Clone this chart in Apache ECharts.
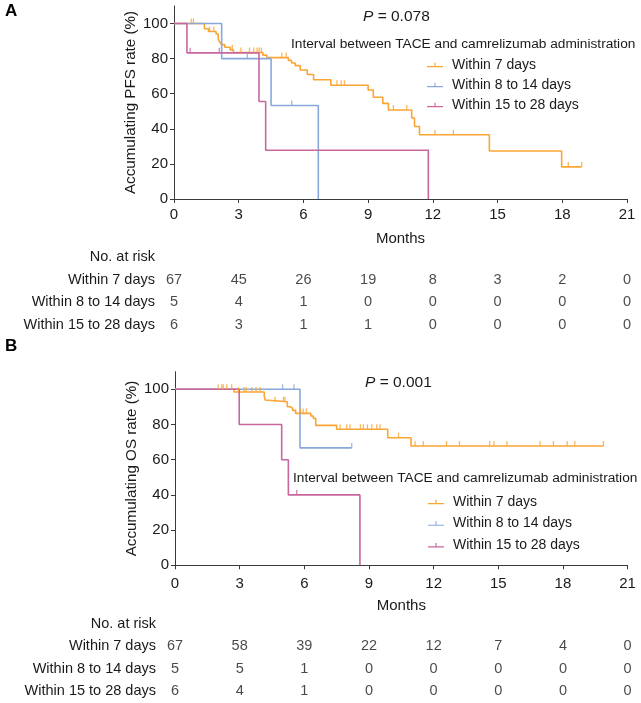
<!DOCTYPE html>
<html><head><meta charset="utf-8">
<script src="https://cdn.jsdelivr.net/npm/echarts@6/dist/echarts.min.js"></script>
<style>html,body{margin:0;padding:0;background:#fff}#c{width:641px;height:703px}</style>
</head><body><div id="c"></div><script>
// ---------- data ----------
const groupNames = ['Within 7 days', 'Within 8 to 14 days', 'Within 15 to 28 days'];
const xTicks = [0, 3, 6, 9, 12, 15, 18, 21];
const yTicks = [0, 20, 40, 60, 80, 100];
const riskTimes = [0, 3, 6, 9, 12, 15, 18, 21];
const riskRows = ['No. at risk', 'Within 7 days', 'Within 8 to 14 days', 'Within 15 to 28 days'];

// Panel A: PFS
const pfsW7 = [[0,100],[1.41,97.0],[1.6,95.5],[1.95,94.0],[2.05,91.0],[2.12,89.5],[2.2,88.0],[2.35,86.5],[2.6,85.0],[2.75,83.5],
  [4.12,82.0],[4.3,80.6],[5.3,79.0],[5.45,77.5],[5.62,76.0],[5.85,73.5],[6.18,71.0],[6.47,68.0],[7.27,64.8],[9.0,62.1],
  [9.24,58.0],[9.68,54.5],[9.94,50.7],[11.02,46.2],[11.15,41.3],[11.38,36.6],[14.62,27.4],[17.97,18.3],[18.9,18.3]];
const pfsW7Cens = [[0.8,100],[0.9,100],[1.65,95.5],[1.85,95.5],[2.7,85.0],[3.1,83.5],[3.5,83.5],[3.7,83.5],[3.85,83.5],[3.95,83.5],[4.05,83.5],
  [5.0,80.6],[5.2,80.6],[7.55,64.8],[7.75,64.8],[7.9,64.8],[10.17,50.7],[10.79,50.7],[12.1,36.6],[12.95,36.6],[18.28,18.3],[18.9,18.3]];
const pfsW14 = [[0,100],[2.21,80],[4.5,53.3],[6.69,0]];
const pfsW14Cens = [[3.4,80],[5.46,53.3]];
const pfsW28 = [[0,100],[0.6,83.3],[3.94,55.6],[4.25,27.8],[11.79,0]];
const pfsW28Cens = [[0.75,83.3],[2.1,83.3]];
const pfsRiskW7 = [67,45,26,19,8,3,2,0];
const pfsRiskW14 = [5,4,1,0,0,0,0,0];
const pfsRiskW28 = [6,3,1,1,0,0,0,0];

// Panel B: OS
const osW7 = [[0,100],[2.74,98.5],[4.14,96.4],[4.18,93.9],[4.22,92.9],[5.21,90.1],[5.35,89.2],[5.46,88.0],[5.6,86.3],[6.3,84.8],
  [6.42,83.5],[6.53,79.5],[7.5,77.3],[9.87,72.5],[10.95,67.8],[19.88,67.8]];
const osW7Cens = [[2.0,100],[2.17,100],[2.24,100],[2.4,100],[2.63,100],[2.94,98.5],[3.2,98.5],[3.3,98.5],[3.56,98.5],[3.76,98.5],[3.95,98.5],
  [4.64,92.9],[5.03,92.9],[5.1,92.9],[5.83,86.3],[5.95,86.3],[6.1,86.3],
  [7.66,77.3],[7.97,77.3],[8.12,77.3],[8.6,77.3],[8.74,77.3],[8.93,77.3],[9.13,77.3],[9.36,77.3],[9.51,77.3],[10.37,72.5],
  [11.14,67.8],[11.52,67.8],[12.6,67.8],[13.2,67.8],[14.6,67.8],[14.8,67.8],[15.4,67.8],[16.94,67.8],[17.56,67.8],[18.2,67.8],[18.55,67.8],[19.88,67.8]];
const osW14 = [[0,100],[5.8,66.7],[8.2,66.7]];
const osW14Cens = [[4.99,100],[5.52,100],[8.2,66.7]];
const osW28 = [[0,100],[2.98,80],[4.95,60],[5.26,40],[8.58,0]];
const osW28Cens = [[5.65,40]];
const osRiskW7 = [67,58,39,22,12,7,4,0];
const osRiskW14 = [5,5,1,0,0,0,0,0];
const osRiskW28 = [6,4,1,0,0,0,0,0];

// ---------- styling ----------
const FONT = '"Liberation Sans", Arial, sans-serif';
const colors = ['#FBA535', '#88A8DC', '#C8679E'];
const axisColor = '#3a3a3a';
const textColor = '#1a1a1a';

function plotAxes(gridIndex, yName, labelMargin, nameGap) {
  return {
    x: {
      type: 'value', gridIndex, min: 0, max: 21, interval: 3,
      axisLine: { lineStyle: { color: axisColor, width: 1 } },
      axisTick: { length: 4, lineStyle: { color: axisColor } },
      axisLabel: { color: textColor, fontSize: 15, fontFamily: FONT, margin: labelMargin },
      splitLine: { show: false },
      name: 'Months', nameLocation: 'middle', nameGap: nameGap, nameMoveOverlap: false,
      nameTextStyle: { color: textColor, fontSize: 15, fontFamily: FONT }
    },
    y: {
      type: 'value', gridIndex, min: 0, max: 110, interval: 20,
      axisLine: { show: true, lineStyle: { color: axisColor, width: 1 } },
      axisTick: { show: true, length: 4, lineStyle: { color: axisColor }, customValues: yTicks },
      axisLabel: { color: textColor, fontSize: 15, fontFamily: FONT, margin: 6, customValues: yTicks },
      splitLine: { show: false },
      name: yName, nameLocation: 'middle', nameGap: 36, nameMoveOverlap: false,
      nameTextStyle: { color: textColor, fontSize: 15.2, fontFamily: FONT }
    }
  };
}
function riskAxes(gridIndex) {
  return {
    x: { type: 'value', gridIndex, min: 0, max: 21, show: false },
    y: {
      type: 'category', gridIndex, data: riskRows, inverse: true,
      axisLine: { show: false }, axisTick: { show: false },
      axisLabel: { color: textColor, fontSize: 14.5, fontFamily: FONT, margin: 19, align: 'right' },
      splitLine: { show: false }
    }
  };
}
const aP = plotAxes(0, 'Accumulating PFS rate (%)', 8, 32);
const aR = riskAxes(1);
const bP = plotAxes(2, 'Accumulating OS rate (%)', 11, 33);
const bR = riskAxes(3);

function kmSeries(name, data, color, xi, yi) {
  return { type: 'line', name, data, step: 'end', xAxisIndex: xi, yAxisIndex: yi, symbol: 'none',
    lineStyle: { color, width: 1.6 }, itemStyle: { color }, animation: false, z: 3 };
}
function censSeries(name, data, color, xi, yi) {
  return { type: 'scatter', name, data, xAxisIndex: xi, yAxisIndex: yi, symbol: 'rect',
    symbolSize: [1.3, 5], symbolOffset: [0, -2.5], itemStyle: { color }, animation: false, z: 4,
    emphasis: { disabled: true } };
}
function riskSeries(rowName, counts, xi, yi) {
  return { type: 'scatter', name: 'risk-' + rowName, xAxisIndex: xi, yAxisIndex: yi,
    data: counts.map((c, i) => [riskTimes[i], rowName, c]),
    symbolSize: 1, itemStyle: { color: 'rgba(0,0,0,0)' }, animation: false,
    label: { show: true, position: 'inside', formatter: p => String(p.value[2]),
      color: textColor, fontSize: 14.5, fontFamily: FONT } };
}

const legendIcon = 'path://M0,4.2H20V5.6H0Z M9.3,0H10.7V5H9.3Z';
function legend(left, top, gap) {
  return { orient: 'vertical', left, top, itemGap: gap, itemWidth: 16, itemHeight: 5,
    data: groupNames.map(n => ({ name: n, icon: legendIcon })),
    textStyle: { color: textColor, fontSize: 14, fontFamily: FONT, lineHeight: 14, padding: [0, 0, 0, 4] },
    selectedMode: false };
}
function txt(text, left, top, size, extra) {
  return Object.assign({ text, left, top, padding: 0,
    textStyle: { color: textColor, fontSize: size, fontWeight: 'normal', fontFamily: FONT,
      rich: { i: { fontStyle: 'italic', fontSize: size, fontFamily: FONT, color: textColor } } } }, extra || {});
}

const option = {
  backgroundColor: '#fff',
  animation: false,
  textStyle: { fontFamily: FONT },
  title: [
    { text: 'A', left: 5, top: 3, padding: 0, textStyle: { fontSize: 17, fontWeight: 'bold', color: '#000', fontFamily: FONT } },
    { text: 'B', left: 5, top: 338, padding: 0, textStyle: { fontSize: 17, fontWeight: 'bold', color: '#000', fontFamily: FONT } },
    txt('{i|P} = 0.078', 363, 9, 15.5),
    txt('{i|P} = 0.001', 365, 375, 15.5),
    txt('Interval between TACE and camrelizumab administration', 291, 37, 13.7),
    txt('Interval between TACE and camrelizumab administration', 293, 471, 13.7)
  ],
  legend: [legend(422, 53, 6), legend(423, 490, 7.6)],
  grid: [
    { left: 174, top: 6, width: 453, height: 193 },
    { left: 174, top: 245.3, width: 453, height: 91.2 },
    { left: 175, top: 371.7, width: 452.6, height: 193.6 },
    { left: 175, top: 612.5, width: 452.6, height: 90 }
  ],
  xAxis: [aP.x, aR.x, bP.x, bR.x],
  yAxis: [aP.y, aR.y, bP.y, bR.y],
  series: [
    kmSeries(groupNames[0], pfsW7, colors[0], 0, 0),
    kmSeries(groupNames[1], pfsW14, colors[1], 0, 0),
    kmSeries(groupNames[2], pfsW28, colors[2], 0, 0),
    censSeries(groupNames[0], pfsW7Cens, colors[0], 0, 0),
    censSeries(groupNames[1], pfsW14Cens, colors[1], 0, 0),
    censSeries(groupNames[2], pfsW28Cens, colors[2], 0, 0),
    riskSeries(riskRows[1], pfsRiskW7, 1, 1),
    riskSeries(riskRows[2], pfsRiskW14, 1, 1),
    riskSeries(riskRows[3], pfsRiskW28, 1, 1),
    kmSeries(groupNames[0], osW7, colors[0], 2, 2),
    kmSeries(groupNames[1], osW14, colors[1], 2, 2),
    kmSeries(groupNames[2], osW28, colors[2], 2, 2),
    censSeries(groupNames[0], osW7Cens, colors[0], 2, 2),
    censSeries(groupNames[1], osW14Cens, colors[1], 2, 2),
    censSeries(groupNames[2], osW28Cens, colors[2], 2, 2),
    riskSeries(riskRows[1], osRiskW7, 3, 3),
    riskSeries(riskRows[2], osRiskW14, 3, 3),
    riskSeries(riskRows[3], osRiskW28, 3, 3)
  ]
};
const chart = echarts.init(document.getElementById('c'), null, { renderer: 'canvas' });
chart.setOption(option);
</script></body></html>
